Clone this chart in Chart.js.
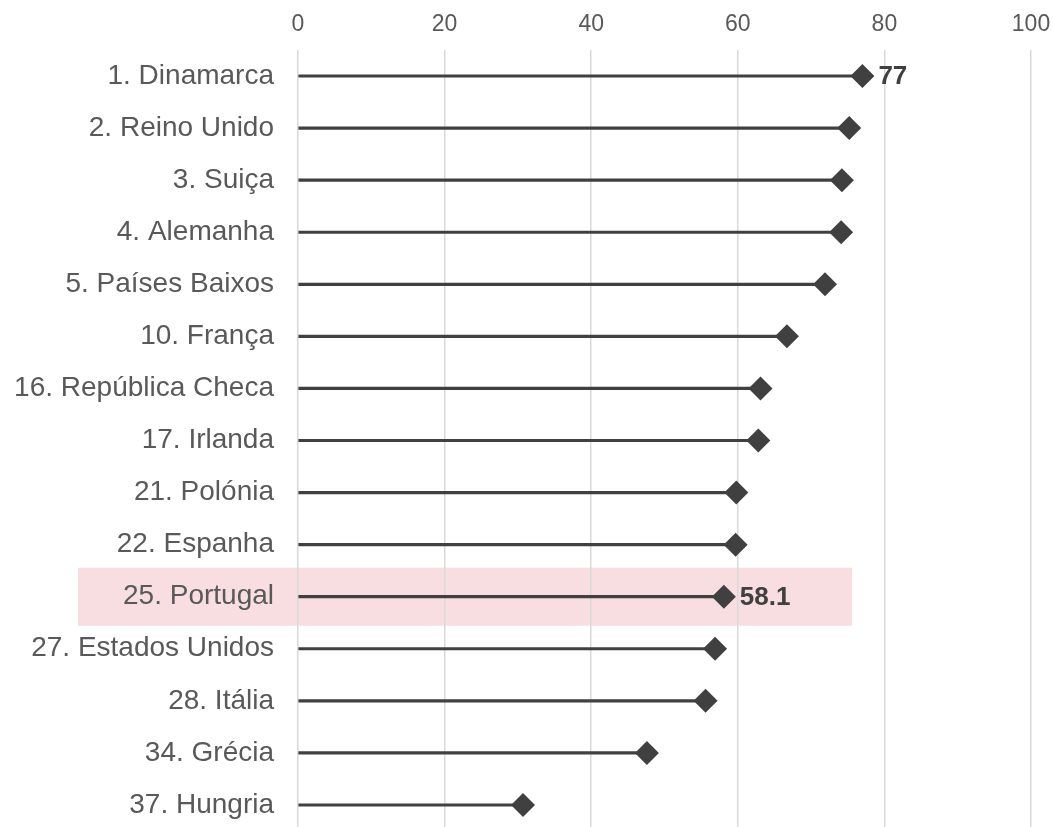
<!DOCTYPE html>
<html>
<head>
<meta charset="utf-8">
<script src="https://cdn.jsdelivr.net/npm/chart.js@4/dist/chart.umd.min.js"></script>
<style>
  html, body { margin: 0; padding: 0; background: #ffffff; overflow: hidden; }
  canvas { display: block; }
</style>
</head>
<body>
<canvas id="c" width="1053" height="843"></canvas>
<script>
const categories = [
  '1. Dinamarca', '2. Reino Unido', '3. Suiça', '4. Alemanha', '5. Países Baixos',
  '10. França', '16. República Checa', '17. Irlanda', '21. Polónia', '22. Espanha',
  '25. Portugal', '27. Estados Unidos', '28. Itália', '34. Grécia', '37. Hungria'
];
const values = [77, 75.2, 74.2, 74.1, 71.9, 66.7, 63.1, 62.8, 59.8, 59.7, 58.1, 56.9, 55.6, 47.6, 30.7];
const valueLabels = ['77', '', '', '', '', '', '', '', '', '', '58.1', '', '', '', ''];
const xTicks = [0, 20, 40, 60, 80, 100];
const highlightIndex = 10;
const highlightEnd = 75.6;

const FONT = "'Liberation Sans', Arial, sans-serif";
const DARK = '#404040';

const highlightPlugin = {
  id: 'highlight',
  beforeDraw(chart) {
    const { ctx, scales } = chart;
    const y = scales.y.getPixelForValue(highlightIndex);
    const x1 = scales.x.getPixelForValue(highlightEnd);
    ctx.save();
    ctx.fillStyle = '#f8dde1';
    ctx.fillRect(78, y - 29, x1 - 78, 58);
    ctx.restore();
  }
};

const labelPlugin = {
  id: 'valueLabels',
  afterDatasetsDraw(chart) {
    const { ctx, scales } = chart;
    ctx.save();
    ctx.font = "bold 26px " + FONT;
    ctx.fillStyle = DARK;
    ctx.textAlign = 'left';
    ctx.textBaseline = 'middle';
    valueLabels.forEach((t, i) => {
      if (!t) return;
      const x = scales.x.getPixelForValue(values[i]) + 16;
      const y = scales.y.getPixelForValue(i);
      ctx.fillText(t, x, y + 1);
    });
    ctx.restore();
  }
};

new Chart(document.getElementById('c'), {
  type: 'bar',
  data: {
    labels: categories,
    datasets: [
      {
        type: 'line',
        data: values,
        showLine: false,
        pointStyle: 'rectRot',
        pointRadius: 12,
        pointHoverRadius: 12,
        pointBackgroundColor: DARK,
        pointBorderWidth: 0,
        borderColor: DARK,
        order: 0
      },
      {
        type: 'bar',
        data: values,
        backgroundColor: DARK,
        barThickness: 2.5,
        order: 1
      }
    ]
  },
  options: {
    indexAxis: 'y',
    responsive: false,
    animation: false,
    layout: { padding: { left: 0, right: 22, top: 0, bottom: 0 } },
    plugins: { legend: { display: false }, tooltip: { enabled: false } },
    scales: {
      x: {
        position: 'top',
        min: 0,
        max: 100,
        afterBuildTicks(scale) { scale.ticks = xTicks.map(v => ({ value: v })); },
        afterFit(scale) { scale.height = 50; scale.paddingLeft = 0; scale.paddingRight = 0; },
        ticks: { color: '#595959', font: { family: FONT, size: 23 }, padding: 12 },
        grid: { color: '#d9d9d9', lineWidth: 1.5, drawTicks: false },
        border: { display: false }
      },
      y: {
        afterFit(scale) { scale.width = 298; scale.paddingTop = 0; scale.paddingBottom = 0; },
        ticks: { color: '#595959', font: { family: FONT, size: 28 }, padding: 24 },
        grid: { display: false, drawTicks: false },
        border: { display: false }
      }
    }
  },
  plugins: [highlightPlugin, labelPlugin]
});
</script>
</body>
</html>
